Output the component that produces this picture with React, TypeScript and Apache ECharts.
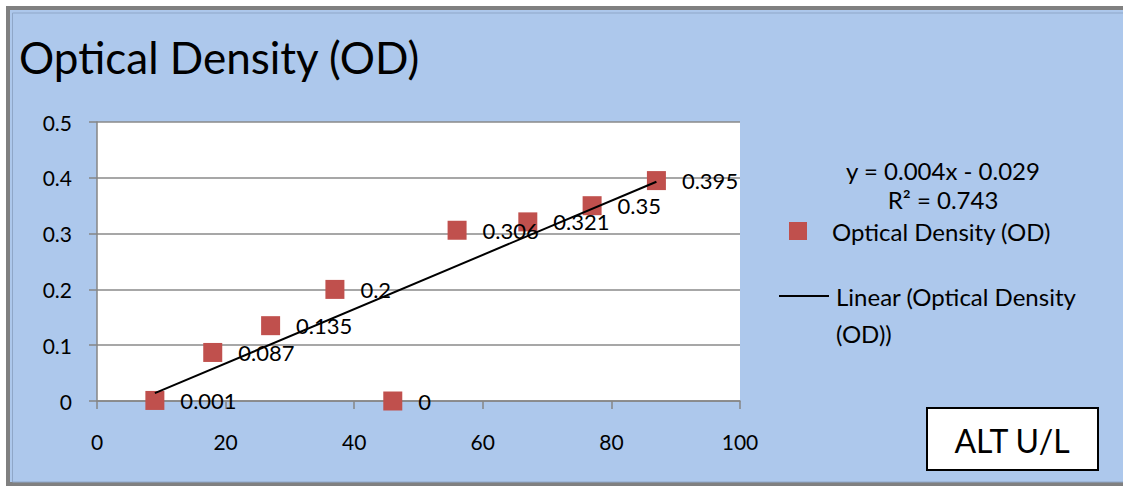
import React, { useEffect, useRef } from "react";
import * as echarts from "echarts";

const altValues = [9, 18, 27, 37, 46, 56, 67, 77, 87];
const odValues = [0.001, 0.087, 0.135, 0.2, 0, 0.306, 0.321, 0.35, 0.395];
const trendX = [9, 87];
const trendY = [0.014, 0.393];
const seriesName = "Optical Density (OD)";
const trendName = "Linear (Optical Density (OD))";
const trendLegendLines = ["Linear (Optical Density", "(OD))"];
const equationLines = ["y = 0.004x - 0.029", "R² = 0.743"];
const axisTitle = "ALT U/L";

const FONT = "Lato, 'Open Sans', sans-serif";

export default function App() {
  const ref = useRef<HTMLDivElement>(null);
  useEffect(() => {
    if (!ref.current) return;
    const chart = echarts.init(ref.current, undefined, { renderer: "svg" });
    const scatterData = altValues.map((x, i) => [x, odValues[i]]);
    const trendData = trendX.map((x, i) => [x, trendY[i]]);
    chart.setOption({
      animation: false,
      backgroundColor: "#ffffff",
      textStyle: { fontFamily: FONT },
      title: {
        text: seriesName,
        left: 14,
        top: 30,
        textStyle: { fontFamily: FONT, fontSize: 44, fontWeight: "normal", color: "#000" },
      },
      grid: {
        left: 97,
        top: 122,
        width: 643,
        height: 279,
        show: true,
        backgroundColor: "#ffffff",
        borderWidth: 0,
      },
      xAxis: {
        type: "value",
        min: 0,
        max: 100,
        interval: 20,
        axisLine: { show: true, onZero: false, lineStyle: { color: "#868686", width: 1.5 } },
        axisTick: { show: true, length: 8, lineStyle: { color: "#868686", width: 1.5 } },
        splitLine: { show: false },
        axisLabel: { fontFamily: FONT, fontSize: 21, color: "#000", margin: 30 },
      },
      yAxis: {
        type: "value",
        min: 0,
        max: 0.5,
        interval: 0.1,
        axisLine: { show: true, lineStyle: { color: "#868686", width: 1.5 } },
        axisTick: { show: true, length: 8, lineStyle: { color: "#868686", width: 1.5 } },
        splitLine: { show: true, lineStyle: { color: "#8a8a8a", width: 1.5 } },
        axisLabel: { fontFamily: FONT, fontSize: 21, color: "#000", margin: 25 },
      },
      legend: [
        {
          data: [{ name: seriesName, icon: "rect" }],
          left: 789,
          top: 219,
          padding: 0,
          itemWidth: 18,
          itemHeight: 18,
          textStyle: {
            fontFamily: FONT,
            fontSize: 24,
            color: "#000",
            padding: [0, 0, 0, 20],
          },
          selectedMode: false,
        },
        {
          data: [{ name: trendName, icon: "rect", itemStyle: { color: "#000" } }],
          left: 779,
          top: 284,
          padding: 0,
          itemWidth: 50,
          itemHeight: 2,
          formatter: () => trendLegendLines[0],
          textStyle: {
            fontFamily: FONT,
            fontSize: 24,
            color: "#000",
            padding: [0, 0, 0, 2],
          },
          selectedMode: false,
        },
      ],
      graphic: [
        {
          type: "rect",
          z: -10,
          silent: true,
          shape: { x: 8, y: 8, width: 1130, height: 476 },
          style: { fill: "#ADC8EC", stroke: "#808080", lineWidth: 4 },
        },
        {
          type: "rect",
          z: -9,
          silent: true,
          shape: { x: 12.5, y: 13, width: 1130, height: 469 },
          style: { fill: "none", stroke: "#8FA7C8", lineWidth: 1 },
        },
        {
          type: "text",
          z: 50,
          x: 836,
          y: 333,
          style: {
            text: trendLegendLines[1],
            fontFamily: FONT,
            fontSize: 24,
            fill: "#000",
            align: "left",
            verticalAlign: "middle",
          },
        },
        {
          type: "text",
          z: 50,
          x: 943,
          y: 170,
          style: {
            text: equationLines[0],
            fontFamily: FONT,
            fontSize: 24,
            fill: "#000",
            align: "center",
            verticalAlign: "middle",
          },
        },
        {
          type: "text",
          z: 50,
          x: 943,
          y: 199,
          style: {
            text: equationLines[1],
            fontFamily: FONT,
            fontSize: 24,
            fill: "#000",
            align: "center",
            verticalAlign: "middle",
          },
        },
        {
          type: "rect",
          z: 50,
          shape: { x: 927, y: 408, width: 171, height: 62 },
          style: { fill: "#ffffff", stroke: "#000", lineWidth: 2 },
        },
        {
          type: "text",
          z: 51,
          x: 1012,
          y: 440,
          style: {
            text: axisTitle,
            fontFamily: FONT,
            fontSize: 32,
            fill: "#000",
            align: "center",
            verticalAlign: "middle",
          },
        },
      ],
      series: [
        {
          name: seriesName,
          type: "scatter",
          data: scatterData,
          symbol: "rect",
          symbolSize: 19,
          z: 2,
          itemStyle: { color: "#C0504D", opacity: 1 },
          label: {
            show: true,
            position: "right",
            distance: 16,
            formatter: (p: any) => String(p.value[1]),
            fontFamily: FONT,
            fontSize: 22,
            color: "#000",
          },
        },
        {
          name: trendName,
          type: "line",
          data: trendData,
          symbol: "none",
          z: 5,
          lineStyle: { color: "#000", width: 2 },
          itemStyle: { color: "#000" },
        },
      ],
    });
    return () => chart.dispose();
  }, []);
  return (
    <div
      ref={ref}
      style={{ position: "absolute", left: 0, top: 0, width: 1123, height: 487 }}
    />
  );
}
